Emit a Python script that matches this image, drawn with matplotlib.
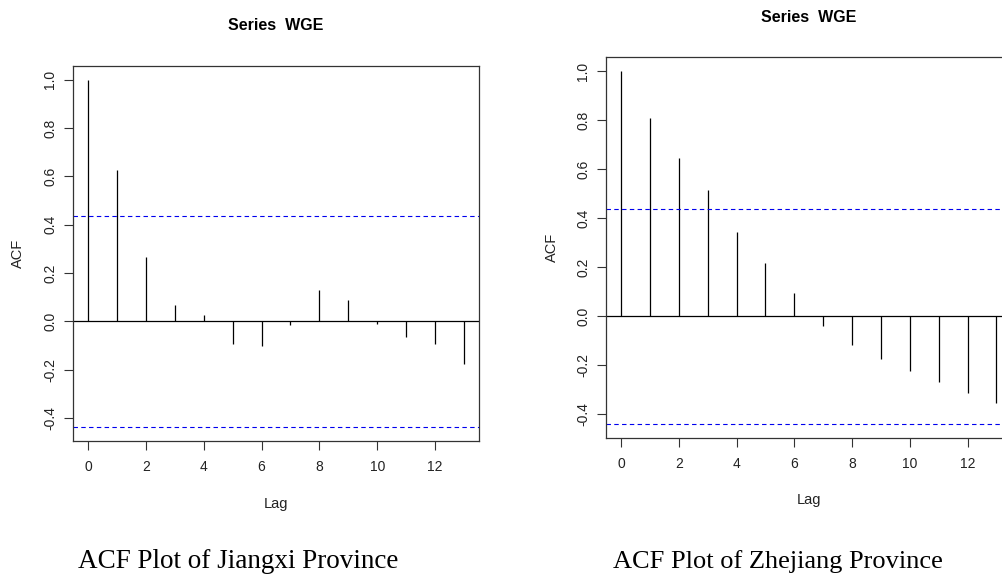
import matplotlib
matplotlib.use("Agg")
import matplotlib.pyplot as plt
import numpy as np

plt.rcParams['font.family'] = ['Liberation Sans', 'DejaVu Sans']

lags = list(range(14))
acf_jiangxi = [1.0, 0.627, 0.268, 0.069, 0.028, -0.095, -0.104,
               -0.014, 0.131, 0.090, -0.010, -0.066, -0.095, -0.178]
acf_zhejiang = [1.0, 0.809, 0.648, 0.516, 0.346, 0.218, 0.094,
                -0.041, -0.116, -0.174, -0.223, -0.268, -0.312, -0.354]
n_obs = 20
conf = 1.96 / np.sqrt(n_obs)

x_ticks = [0, 2, 4, 6, 8, 10, 12]
y_ticks = [-0.4, -0.2, 0.0, 0.2, 0.4, 0.6, 0.8, 1.0]
captions = ["ACF Plot of Jiangxi Province", "ACF Plot of Zhejiang Province"]

fig = plt.figure(figsize=(10.02, 5.78), dpi=100)

# axes boxes in figure fractions (right panel runs past the edge)
boxes = [
    [73 / 1002, 137 / 578, 406 / 1002, 375 / 578],
    [606 / 1002, 140.3 / 578, 405.4 / 1002, 380.4 / 578],
]
title_off = [29.5, 29.0]
lag_off = [45.4, 44.9]
acf_off = [39.6, 39.2]
caption_x = [78 / 1002, 613 / 1002]
caption_size = [19.5, 19.0]

for i, acf in enumerate([acf_jiangxi, acf_zhejiang]):
    ax = fig.add_axes(boxes[i])
    ax.vlines(lags, 0, acf, color='black', lw=0.9)
    ax.axhline(0, color='black', lw=0.9)
    ax.axhline(conf, color='#0000ee', lw=0.8, ls=(0, (4, 3)))
    ax.axhline(-conf, color='#0000ee', lw=0.8, ls=(0, (4, 3)))

    span = max(lags) - min(lags)
    ax.set_xlim(-0.04 * span, max(lags) + 0.04 * span)
    lo = min(-conf, min(acf))
    ax.set_ylim(lo - 0.04 * (1 - lo), 1 + 0.04 * (1 - lo))

    ax.set_xticks(x_ticks)
    ax.set_yticks(y_ticks)
    ax.set_yticklabels([f"{v:.1f}" for v in y_ticks], rotation=90, va='center')
    ax.tick_params(axis='both', length=6.3, width=0.8, color='#333333',
                   labelsize=10, labelcolor='#222222')
    ax.tick_params(axis='x', pad=7.5)
    ax.tick_params(axis='y', pad=5)
    for s in ax.spines.values():
        s.set_linewidth(0.9)
        s.set_color('#333333')

    ax.annotate("Series  WGE", xy=(0.5, 1), xycoords='axes fraction',
                xytext=(0, title_off[i]), textcoords='offset points',
                ha='center', va='center', fontsize=11.5, fontweight='bold')
    ax.annotate("Lag", xy=(0.5, 0), xycoords='axes fraction',
                xytext=(0, -lag_off[i]), textcoords='offset points',
                ha='center', va='center', fontsize=10.5, color='#222222')
    ax.annotate("ACF", xy=(0, 0.5), xycoords='axes fraction',
                xytext=(-acf_off[i], 0), textcoords='offset points',
                ha='center', va='center', rotation=90, fontsize=10.5,
                color='#222222')

    fig.text(caption_x[i], 10 / 578, captions[i], ha='left', va='baseline',
             fontsize=caption_size[i], family='Liberation Serif')

fig.savefig("out.png", dpi=100)
